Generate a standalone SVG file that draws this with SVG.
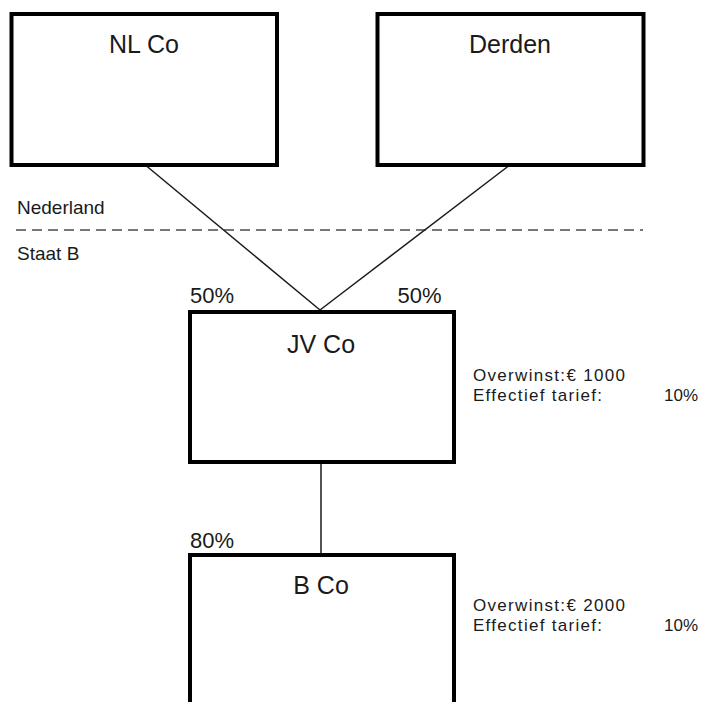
<svg xmlns="http://www.w3.org/2000/svg" width="701" height="702" viewBox="0 0 701 702">
<style>
.box{fill:#fff;stroke:#000;stroke-width:4}
.t{font-family:"Liberation Sans",Arial,sans-serif;fill:#1a1a1a}
.title{font-size:25px;text-anchor:middle}
.lbl{font-size:19px}
.info{font-size:17px}
.pct{font-size:22px}
.conn line{stroke:#1a1a1a;stroke-width:1.5}
</style>
<rect width="701" height="702" fill="#fff"/>
<g id="border">
<line x1="16" y1="230" x2="643" y2="230" stroke="#777" stroke-width="2" stroke-dasharray="10 6"/>
<text class="t lbl" x="17" y="214">Nederland</text>
<text class="t lbl" x="17" y="260">Staat B</text>
</g>
<g class="conn" id="connectors">
<line x1="146.5" y1="166" x2="320" y2="310"/>
<line x1="508.5" y1="166" x2="320" y2="310"/>
<line x1="321" y1="463" x2="321" y2="555"/>
</g>
<g id="nlco">
<rect class="box" x="11.5" y="14" width="265.5" height="151"/>
<text class="t title" x="144" y="53">NL Co</text>
</g>
<g id="derden">
<rect class="box" x="377.5" y="14" width="266" height="151"/>
<text class="t title" x="510" y="53">Derden</text>
</g>
<g id="jvco">
<rect class="box" x="190" y="312" width="264" height="150"/>
<text class="t title" x="321" y="353">JV Co</text>
<text class="t pct" x="190" y="303">50%</text>
<text class="t pct" x="397.5" y="303">50%</text>
<text class="t info" x="473" y="381" textLength="152">Overwinst:€ 1000</text>
<text class="t info" x="473" y="401" textLength="129">Effectief tarief:</text>
<text class="t info" x="698" y="401" text-anchor="end">10%</text>
</g>
<g id="bco">
<rect class="box" x="190" y="555" width="264" height="160"/>
<text class="t title" x="321" y="594">B Co</text>
<text class="t pct" x="190" y="548">80%</text>
<text class="t info" x="473" y="611" textLength="152">Overwinst:€ 2000</text>
<text class="t info" x="473" y="631" textLength="129">Effectief tarief:</text>
<text class="t info" x="698" y="631" text-anchor="end">10%</text>
</g>
</svg>
